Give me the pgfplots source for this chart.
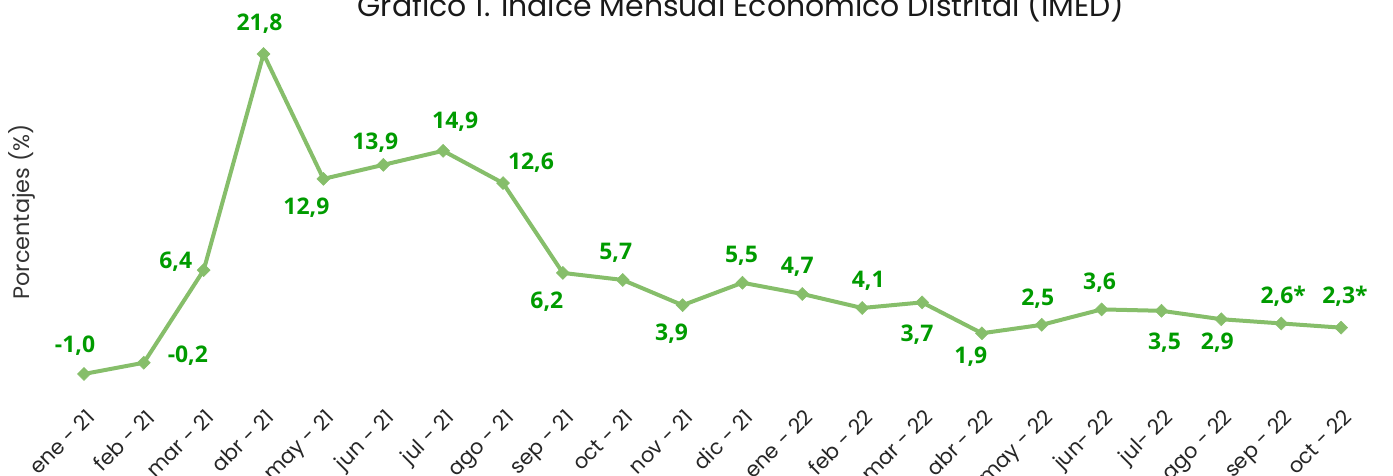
\documentclass[border=0pt]{standalone}
\usepackage{pgfplots}
\usepackage{pgfplotstable}
\pgfplotsset{compat=1.18}
\usepackage{fontspec}
\setmainfont{Open Sans}
\newfontfamily\poppins{Poppins}
\definecolor{linegreen}{RGB}{134,190,106}
\definecolor{labgreen}{RGB}{0,155,0}
\pgfplotstableread{
x y lab dx dy
0 -1.0 {-1,0} -9 28
1 -0.2 {-0,2} 44 7
2 6.4 {6,4} -28 8
3 21.8 {21,8} -4 30
4 12.9 {12,9} -17 -29
5 13.9 {13,9} -8 22
6 14.9 {14,9} 12 29
7 12.6 {12,6} 28 20
8 6.2 {6,2} -16 -29
9 5.7 {5,7} -7 27
10 3.9 {3,9} -11 -28
11 5.5 {5,5} -1 27
12 4.7 {4,7} -5 27
13 3.7 {4,1} 6 27
14 4.1 {3,7} -5 -32
15 1.9 {1,9} -11 -23
16 2.5 {2,5} -4 26
17 3.6 {3,6} -2 27
18 3.5 {3,5} 3 -32
19 2.9 {2,9} -4 -23
20 2.6 {2,6*} 2 27
21 2.3 {2,3*} 4 31
}\imed
\begin{document}
\begin{tikzpicture}[x=1bp,y=1bp]
\begin{axis}[
  at={(0,0)}, anchor=south west,
  scale only axis,
  width=1393bp, height=388bp,
  xmin=-1.403, xmax=21.868,
  ymin=-2.0, ymax=25.647,
  axis line style={draw=none},
  tick style={draw=none},
  ytick=\empty,
  xtick={0,...,21},
  xticklabels={ene - 21,feb - 21,mar - 21,abr - 21,may - 21,jun - 21,jul - 21,ago - 21,sep - 21,oct - 21,nov - 21,dic - 21,ene - 22,feb - 22,mar - 22,abr - 22,may - 22,jun- 22,jul- 22,ago - 22,sep - 22,oct - 22},
  xticklabel style={xshift=1bp, yshift=-15bp, rotate=45, anchor=north east, font=\poppins\fontsize{21}{24}\selectfont, text=black!85},
  clip=false,
]
\addplot[linegreen, line width=4bp, mark=square*, mark size=4.6bp,
  mark options={fill=linegreen, draw=linegreen, line width=0.5bp, rotate=45},
  point meta=explicit symbolic,
  visualization depends on={\thisrow{dx} \as \ldx},
  visualization depends on={\thisrow{dy} \as \ldy},
  nodes near coords,
  nodes near coords style={anchor=center, font=\bfseries\fontsize{23}{26}\selectfont, text=labgreen, xshift=\ldx bp, yshift=\ldy bp, inner sep=0pt},
] table[x=x, y=y, meta=lab] {\imed};
\end{axis}
\node[anchor=base, font=\poppins\fontsize{30}{34}\selectfont, text=black!90] at (741bp,371bp) {Gráfico 1. Índice Mensual Económico Distrital (IMED)};
\node[rotate=90, font=\poppins\fontsize{22.5}{26}\selectfont, text=black!80] at (22bp,176bp) {Porcentajes (\%)};
\pgfresetboundingbox
\path[use as bounding box] (0,-88bp) rectangle (1393bp,388bp);
\end{tikzpicture}
\end{document}
